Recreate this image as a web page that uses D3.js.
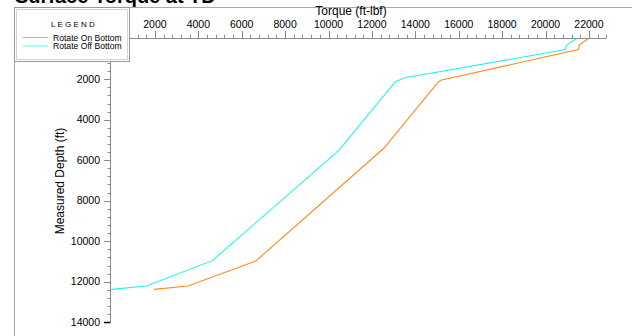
<!DOCTYPE html>
<html><head><meta charset="utf-8">
<script src="https://cdn.jsdelivr.net/npm/d3@7/dist/d3.min.js"></script>
<style>body{margin:0;background:#fff}svg{display:block}text{font-family:"Liberation Sans",Arial,sans-serif}</style>
</head><body>
<script>
const chartTitle = "Surface Torque at TD";
const xTitle = "Torque (ft-lbf)";
const yTitle = "Measured Depth (ft)";
const seriesNames = ["Rotate On Bottom", "Rotate Off Bottom"];
const seriesColors = ["#ff8a1c", "#22f2f2"];
const onBottomTorque = [21960, 21550, 21520, 15210, 15050, 12550, 6650, 3530, 1960];
const onBottomDepth  = [0, 310, 540, 2040, 2150, 5410, 10980, 12210, 12380];
const offBottomTorque = [21430, 20970, 20920, 13520, 13080, 10490, 4650, 1610, 0];
const offBottomDepth  = [0, 310, 540, 1930, 2120, 5500, 10960, 12210, 12380];
const xTicks = [0, 2000, 4000, 6000, 8000, 10000, 12000, 14000, 16000, 18000, 20000, 22000];
const yTicks = [0, 2000, 4000, 6000, 8000, 10000, 12000, 14000];

const W = 632, H = 336;
const svg = d3.select("body").append("svg").attr("width", W).attr("height", H);

const x = d3.scaleLinear().domain([0, 22800]).range([111.5, 606.3]);
const y = d3.scaleLinear().domain([0, 14000]).range([38.7, 322.2]);

// title (clipped at top, as in the reference)
svg.append("text").attr("x", 15).attr("y", 3).attr("font-size", 20).attr("font-weight", "bold")
  .attr("fill", "#000").text(chartTitle);

// frame
svg.append("rect").attr("x", 14.5).attr("y", 7.5).attr("width", 700).attr("height", 400)
  .attr("fill", "none").attr("stroke", "#a8a8a8");

// x axis (ticks upward)
const xMinor = d3.range(0, 22801, 400);
const gx = svg.append("g");
gx.append("line").attr("x1", x(0)).attr("x2", x(22800)).attr("y1", 38.5).attr("y2", 38.5).attr("stroke", "#8a8a8a");
gx.selectAll(".mn").data(xMinor).join("line")
  .attr("x1", d => Math.round(x(d)) + 0.5).attr("x2", d => Math.round(x(d)) + 0.5)
  .attr("y1", 38.5).attr("y2", d => d % 2000 === 0 ? 31 : 35).attr("stroke", "#8a8a8a");
gx.selectAll(".lb").data(xTicks.filter(d => d > 0)).join("text")
  .attr("x", d => x(d)).attr("y", 28).attr("text-anchor", "middle").attr("font-size", 10.5)
  .attr("fill", "#000").text(d => d);
svg.append("text").attr("x", 351).attr("y", 15).attr("text-anchor", "middle").attr("font-size", 12)
  .attr("fill", "#000").text(xTitle);

// y axis (ticks leftward)
const yMinor = d3.range(0, 14001, 400);
const gy = svg.append("g");
gy.append("line").attr("x1", 110.5).attr("x2", 110.5).attr("y1", y(0)).attr("y2", y(14000)).attr("stroke", "#8a8a8a");
gy.selectAll(".mn").data(yMinor).join("line")
  .attr("y1", d => Math.round(y(d)) + 0.5).attr("y2", d => Math.round(y(d)) + 0.5)
  .attr("x1", 110.5).attr("x2", d => d % 2000 === 0 ? 104 : 107.5)
  .attr("stroke", d => d === 14000 ? "#000" : "#8a8a8a").attr("stroke-width", d => d === 14000 ? 1.5 : 1);
gy.selectAll(".lb").data(yTicks.filter(d => d > 0)).join("text")
  .attr("x", 100).attr("y", d => y(d)).attr("dy", "0.36em").attr("text-anchor", "end").attr("font-size", 10.5)
  .attr("fill", "#000").text(d => d);
svg.append("text").attr("transform", "translate(64,181) rotate(-90)").attr("text-anchor", "middle")
  .attr("font-size", 12).attr("fill", "#000").text(yTitle);

// series
const series = [
  {name: seriesNames[0], color: seriesColors[0], pts: onBottomTorque.map((t, i) => [t, onBottomDepth[i]])},
  {name: seriesNames[1], color: seriesColors[1], pts: offBottomTorque.map((t, i) => [t, offBottomDepth[i]])}
];
const line = d3.line().x(d => x(d[0])).y(d => y(d[1]));
svg.selectAll(".series").data(series).join("path")
  .attr("d", d => line(d.pts)).attr("fill", "none").attr("stroke", d => d.color).attr("stroke-width", 1.1);

// legend
const lg = svg.append("g");
lg.append("rect").attr("x", 14.5).attr("y", 7.5).attr("width", 115).attr("height", 54)
  .attr("fill", "#fff").attr("stroke", "#9a9a9a");
lg.append("rect").attr("x", 16.5).attr("y", 9.5).attr("width", 111).attr("height", 50)
  .attr("fill", "none").attr("stroke", "#d4d4d4");
lg.append("text").attr("x", 74).attr("y", 27).attr("text-anchor", "middle").attr("font-size", 8)
  .attr("letter-spacing", 2.2).attr("fill", "#000").text("LEGEND");
series.forEach((s, i) => {
  const yy = 37.5 + i * 8.5;
  lg.append("line").attr("x1", 23).attr("x2", 48).attr("y1", yy).attr("y2", yy)
    .attr("stroke", s.color).attr("stroke-opacity", 0.75);
  lg.append("text").attr("x", 53).attr("y", yy + 3).attr("font-size", 8.6).attr("fill", "#000").text(s.name);
});
</script>
</body></html>
